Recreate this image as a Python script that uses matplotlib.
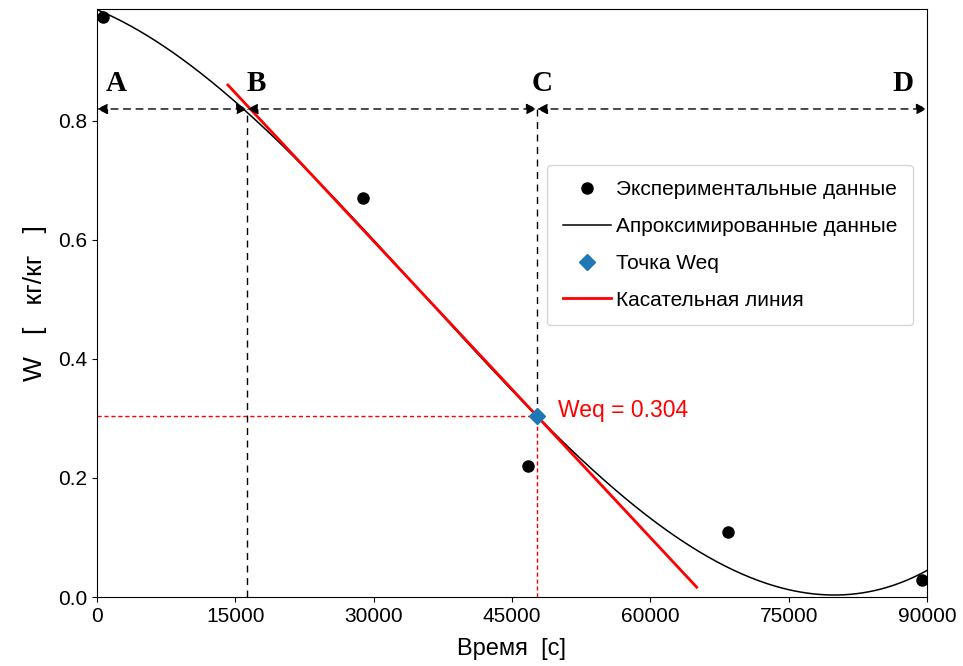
import numpy as np
import matplotlib.pyplot as plt

plt.rcParams['font.family'] = ['Liberation Sans', 'DejaVu Sans']

# экспериментальные данные
t_exp = [600, 28800, 46700, 68400, 89500]
w_exp = [0.975, 0.670, 0.220, 0.109, 0.029]

# точки аппроксимирующей кривой, кривая - полином 3-й степени
fit_t = [0, 4660, 11170, 15690, 47710, 50200, 54540, 61050, 68400, 71900, 79480, 90000]
fit_w = [0.986, 0.948, 0.886, 0.823, 0.304, 0.263, 0.201, 0.118, 0.051, 0.030, 0.006, 0.042]

# точка Weq и касательная
t_weq = 47710
w_weq = 0.304
tangent_slope = -1.66e-5
tangent_t = [14200, 65030]

# границы участков A-B-C-D
t_b = 16300
t_max = 90000
w_arrow = 0.82

poly = np.poly1d(np.polyfit(fit_t, fit_w, 3))

fig, ax = plt.subplots(figsize=(9.63, 6.66), dpi=100)
fig.subplots_adjust(left=0.1007, right=0.9626, bottom=0.1036, top=0.9865)

t_fit = np.linspace(0, t_max, 400)
ax.plot(t_exp, w_exp, 'o', color='black', ms=8, label='Экспериментальные данные')
ax.plot(t_fit, poly(t_fit), color='black', lw=1.1, label='Апроксимированные данные')
ax.plot(t_weq, w_weq, 'D', color='tab:blue', ms=8, label='Точка Weq', zorder=5)
tt = np.array(tangent_t)
ax.plot(tt, w_weq + tangent_slope * (tt - t_weq), color='red', lw=2, label='Касательная линия')

# вспомогательные линии
ax.plot([0, t_weq], [w_weq, w_weq], color='red', lw=1, dashes=(3, 2))
ax.plot([t_weq, t_weq], [0, w_weq], color='red', lw=1, dashes=(3, 2))
ax.plot([t_weq, t_weq], [w_weq, w_arrow], color='black', lw=1, dashes=(5, 4))
ax.plot([t_b, t_b], [0, w_arrow], color='black', lw=1, dashes=(5, 4))

for a, b in [(0, t_b), (t_b, t_weq), (t_weq, t_max)]:
    ax.annotate('', xy=(b, w_arrow), xytext=(a, w_arrow),
                arrowprops=dict(arrowstyle='<|-|>', linestyle=(0, (5, 4)), color='black',
                                lw=1, shrinkA=0, shrinkB=0, mutation_scale=16))

for lbl, x in [('A', 2060), ('B', 17240), ('C', 48250), ('D', 87400)]:
    ax.text(x, 0.862, lbl, ha='center', va='center', fontsize=21, fontweight='bold',
            family='Liberation Serif')

ax.text(50000, 0.314, 'Weq = 0.304', color='red', fontsize=16.5, ha='left', va='center')

ax.set_xlim(0, t_max)
ax.set_ylim(0, 0.988)
ax.set_xticks(np.arange(0, 90001, 15000))
ax.set_yticks([0.0, 0.2, 0.4, 0.6, 0.8])
ax.tick_params(labelsize=15)
ax.set_xlabel('Время  [с]', fontsize=17, labelpad=9)
ax.set_ylabel('W   [   кг/кг   ]', fontsize=19, labelpad=8)

ax.legend(loc='upper right', bbox_to_anchor=(0.983, 0.735), borderaxespad=0,
          fontsize=15, handlelength=2.3, handletextpad=0.25, labelspacing=0.85,
          borderpad=0.75)

fig.savefig('out.png', dpi=100)
